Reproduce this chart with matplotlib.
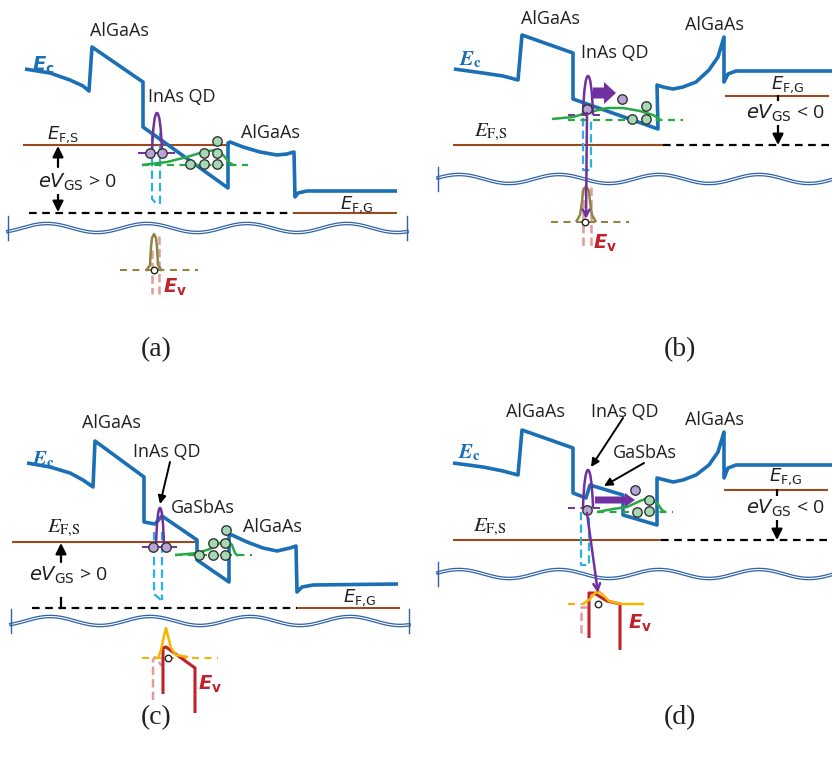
import numpy as np
import matplotlib.pyplot as plt
from matplotlib.path import Path
from matplotlib.patches import PathPatch

plt.rcParams['lines.scale_dashes'] = False

# ---- panel (a) ----
EC_A = [(25,69),(50,73),(70,80),(83,86),(89,91),(92,47),(140,80),(143,82),(143,127),(228,188),(228,143),(230,142),
        (243,147),(260,152),(277,155),(287,154),(294,152),(295,197),(298,193),(307,191),(333,191),(397,191)]
EFS_A = [(23,145),(230,145)]
DASH_A = [(29,213),(293,213)]
EFG_A = [(293,213),(397,213)]
CYAN_A = [[(152,133),(152,199),(158,205)], [(160,133),(160,205)]]
QD_LVL_A = [(138,153),(175,153)]
QD_PEAK_A = (152,162,153,113)
QD_E_A = [(150,153),(162,153)]
GWF_A = [(142,165),(167,162),(187,157),(203,152),(215,150),(223,155),(230,163),(233,165)]
GLVL_A = [(142,165),(248,165)]
GE_A = [(190,164),(204,164),(217,164),(204,153),(217,153),(217,141)]
HWF_A = [(146,271),(150,265),(151,247),(152,238),(154,234),(156,238),(157,247),(158,265),(162,271)]
HLVL_A = [(120,270),(198,270)]
PINK_A = [[(152,250),(152,294)], [(159,236),(159,294)]]
HOLE_A = (154,270)

# ---- panel (b) ----
EC_B = [(454,69),(483,73),(503,76),(518,80),(522,35),(573,53),(573,99),(658,129),(657,85),(663,87),(673,89),
        (683,87),(696,82),(709,70),(718,57),(724,37),(724,82),(728,74),(736,71),(832,71)]
EFS_B = [(453,145),(663,145)]
DASH_B = [(663,145),(832,145)]
EFG_B = [(725,96),(829,96)]
CYAN_B = [[(583,118),(583,170),(591,170),(591,118)]]
QD_LVL_B = [(568,115),(605,115)]
QD_PEAK_B = (583,593,115,76)
QD_E_B = [(587,109)]
ESC_B = [(622,99)]
GWF_B = [(552,119),(573,117),(590,112),(607,108),(623,108),(640,111),(653,115),(660,119)]
GLVL_B = [(568,120),(683,120)]
GE_B = [(632,119),(646,119),(646,106)]
HWF_B = [(576,222),(580,215),(582,202),(583,191),(586,186),(589,191),(590,202),(592,215),(596,222)]
HLVL_B = [(551,222),(629,222)]
PINK_B = [[(583,187),(583,247)], [(591,187),(591,247)]]
HOLE_B = (585,222)
RECOMB_B = [(587,113),(586,219)]
BLOCK_B = (593,93,616)

# ---- panel (c) ----
EC_C = [(27,463),(50,467),(70,473),(83,480),(93,487),(95,441),(144,477),(144,522),(155,524),(162,516),(197,540),
        (197,560),(229,582),(229,535),(232,535),(247,542),(263,548),(277,551),(290,548),(296,546),(297,592),
        (302,587),(313,585),(398,584)]
EFS_C = [(12,542),(197,542)]
DASH_C = [(32,608),(297,608)]
EFG_C = [(297,608),(400,608)]
CYAN_C = [[(154,532),(154,594),(161,600)], [(162,532),(162,600)]]
QD_LVL_C = [(142,547),(177,547)]
QD_PEAK_C = (156,164,547,508)
QD_E_C = [(153,547),(166,547)]
GWF_C = [(175,555),(187,554),(197,553),(210,549),(220,543),(227,540),(232,545),(235,553),(238,556)]
GLVL_C = [(175,555),(252,555)]
GE_C = [(199,555),(213,555),(225,555),(213,543),(225,543),(226,530)]
HWF_C = [(158,658),(161,650),(164,636),(166,628),(168,636),(171,648),(176,655),(188,657)]
HLVL_C = [(142,658),(218,658)]
RED_C = [(163,694),(163,648),(166,647),(195,668),(195,713)]
PINK_C = [[(153,700),(153,660),(155,657),(162,666)]]
HOLE_C = (168,658)

# ---- panel (d) ----
EC_D = [(453,463),(483,467),(503,471),(518,475),(522,430),(573,448),(573,493),(586,498),(590,485),(623,495),
        (623,515),(657,525),(657,478),(665,480),(673,482),(683,480),(696,475),(709,465),(718,452),(724,432),
        (724,478),(728,468),(736,465),(832,465)]
EFS_D = [(453,540),(661,540)]
DASH_D = [(661,540),(832,540)]
EFG_D = [(724,490),(828,490)]
CYAN_D = [[(581,512),(581,565),(589,565),(589,512)]]
QD_LVL_D = [(568,508),(603,508)]
QD_PEAK_D = (583,593,508,470)
QD_E_D = [(587,510)]
ESC_D = [(635,490)]
GWF_D = [(597,512),(613,509),(627,507),(640,501),(648,498),(657,503),(662,510),(665,512)]
GLVL_D = [(597,512),(673,512)]
GE_D = [(637,512),(649,511),(649,500)]
HWF_D = [(583,604),(589,600),(594,594),(598,591),(602,594),(609,601),(620,604),(644,604)]
HLVL_D = [(568,604),(585,604)]
RED_D = [(589,638),(589,593),(594,593),(607,601),(620,604),(620,650)]
PINK_D = [[(581,633),(581,607),(587,607)]]
HOLE_D = (598,604)
RECOMB_D = [(587,513),(598,593)]
BLOCK_D = (595,500,635)

LAYER_TEXT = [(119,31,'AlGaAs'),(182,97,'InAs QD'),(270,133,'AlGaAs'),
              (550,19,'AlGaAs'),(615,53,'InAs QD'),(714,25,'AlGaAs'),
              (111,423,'AlGaAs'),(167,452,'InAs QD'),(203,508,'GaSbAs'),(272,527,'AlGaAs'),
              (535,412,'AlGaAs'),(625,412,'InAs QD'),(714,420,'AlGaAs'),(645,453,'GaSbAs')]
PANEL_TEXT = [(156,350,'(a)'),(680,350,'(b)'),(156,718,'(c)'),(680,718,'(d)')]

EC_BLUE = '#1b6fb5'
BROWN = '#9b4a1e'
CYAN = '#2bb0e6'
GREEN = '#27a844'
PURPLE = '#7030a0'
LPURPLE = '#b9a2d6'
LGREEN = '#a4d9b4'
OLIVE = '#8f8545'
PINK = '#e29a9a'
RED = '#c0222b'
YELLOW = '#f7b500'
WAVE = '#2f62a6'
INK = '#231f20'

fig = plt.figure(figsize=(8.32, 7.66), dpi=100)
ax = fig.add_axes([0, 0, 1, 1])
ax.set_xlim(0, 832)
ax.set_ylim(766, 0)
ax.axis('off')


def line(pts, color, lw, dashes=None, z=2):
    xs, ys = zip(*pts)
    l, = ax.plot(xs, ys, color=color, lw=lw, zorder=z, solid_capstyle='butt', dash_capstyle='butt')
    if dashes:
        l.set_dashes(dashes)


def peak(x0, x1, yb, yt, color, lw=1.8):
    h = (yt - yb) * 4 / 3
    w = x1 - x0
    verts = [(x0, yb), (x0 + 0.15 * w, yb + h), (x1 - 0.15 * w, yb + h), (x1, yb)]
    p = Path(verts, [Path.MOVETO, Path.CURVE4, Path.CURVE4, Path.CURVE4])
    ax.add_patch(PathPatch(p, fill=False, ec=color, lw=lw, zorder=5))


def wave(x0, x1, yc, phase, bar_right=True):
    x = np.linspace(x0, x1, 400)
    y = yc + 4.5 * np.sin(2 * np.pi * (x - phase) / 100)
    ax.plot(x, y, color=WAVE, lw=2.6, zorder=1)
    ax.plot(x, y, color='white', lw=0.8, zorder=1)
    ends = [x0, x1] if bar_right else [x0]
    for xb in ends:
        ax.plot([xb, xb], [yc - 12, yc + 12], color=WAVE, lw=1, zorder=1)


def dots(pts, fc, s=46, ec='#333333'):
    xs, ys = zip(*pts)
    ax.scatter(xs, ys, s=s, c=fc, edgecolors=ec, linewidths=1, zorder=7)


def arrow(p0, p1, color='k', lw=1.6, ms=16, style='-|>'):
    ax.annotate('', xy=p1, xytext=p0,
                arrowprops=dict(arrowstyle=style, color=color, lw=lw, mutation_scale=ms,
                                shrinkA=0, shrinkB=0), zorder=8)


def block(tail, y, tip, w, hw, hl):
    ax.arrow(tail, y, tip - tail, 0, width=w, head_width=hw, head_length=hl,
             length_includes_head=True, color=PURPLE, lw=0, zorder=8)


def panel(ec, efs, dash, efg, cyan, qdl, qdp, qde, gwf, glvl, ge, hwf, hlvl, pink, hole,
          qd_dash=False, hcol=OLIVE):
    line(ec, EC_BLUE, 2.6, z=3)
    line(efs, BROWN, 1.5)
    line(dash, 'k', 1.6, dashes=(5.5, 4))
    line(efg, BROWN, 1.5)
    for c in cyan:
        line(c, CYAN, 1.6, dashes=(6, 3), z=2)
    for p in pink:
        line(p, PINK, 1.8, dashes=(6, 3), z=2)
    line(qdl, PURPLE, 1.4, dashes=(5, 4) if qd_dash else None, z=4)
    peak(*qdp, PURPLE)
    line(glvl, GREEN, 1.6, dashes=(5, 4), z=4)
    line(gwf, GREEN, 1.8, z=4)
    line(hlvl, hcol, 1.5, dashes=(5, 4), z=4)
    line(hwf, hcol, 1.8, z=5)
    dots(ge, LGREEN)
    dots(qde, LPURPLE)
    ax.scatter([hole[0]], [hole[1]], s=22, c='white', edgecolors='#222222', linewidths=1, zorder=9)


panel(EC_A, EFS_A, DASH_A, EFG_A, CYAN_A, QD_LVL_A, QD_PEAK_A, QD_E_A, GWF_A, GLVL_A, GE_A,
      HWF_A, HLVL_A, PINK_A, HOLE_A)
panel(EC_B, EFS_B, DASH_B, EFG_B, CYAN_B, QD_LVL_B, QD_PEAK_B, QD_E_B, GWF_B, GLVL_B, GE_B,
      HWF_B, HLVL_B, PINK_B, HOLE_B, qd_dash=True)
panel(EC_C, EFS_C, DASH_C, EFG_C, CYAN_C, QD_LVL_C, QD_PEAK_C, QD_E_C, GWF_C, GLVL_C, GE_C,
      HWF_C, HLVL_C, PINK_C, HOLE_C, hcol=YELLOW)
panel(EC_D, EFS_D, DASH_D, EFG_D, CYAN_D, QD_LVL_D, QD_PEAK_D, QD_E_D, GWF_D, GLVL_D, GE_D,
      HWF_D, HLVL_D, PINK_D, HOLE_D, qd_dash=True, hcol=YELLOW)
line(RED_C, RED, 2.2, z=4)
line(RED_D, RED, 2.2, z=4)

# escaping electrons and recombination
dots(ESC_B, LPURPLE)
dots(ESC_D, LPURPLE)
block(BLOCK_B[0], BLOCK_B[1], BLOCK_B[2], 11, 22, 12)
block(BLOCK_D[0], BLOCK_D[1], BLOCK_D[2], 7, 14, 10)
arrow(RECOMB_B[0], RECOMB_B[1], color=PURPLE, lw=1.8, ms=12, style='->')
arrow(RECOMB_D[0], RECOMB_D[1], color=PURPLE, lw=1.8, ms=12, style='->')

# wavy breaks
wave(8, 407, 228, 72)
wave(11, 409, 621, 75)
wave(438, 840, 179, 484, bar_right=False)
wave(438, 840, 574, 484, bar_right=False)

# gate bias arrows
arrow((58, 167), (58, 146))
arrow((58, 193), (58, 212))
arrow((778, 96), (778, 145))
arrow((61, 562), (61, 543))
ax.plot([61, 61], [598, 608], color='k', lw=1.6)
arrow((777, 490), (777, 540))
# pointers to layers
arrow((170, 462), (160, 504), lw=1.4, ms=12)
arrow((623, 418), (591, 467), lw=1.4, ms=12)
arrow((644, 463), (604, 486), lw=1.4, ms=12)

for x, y, s in LAYER_TEXT:
    ax.text(x, y, s, fontsize=13, family='Open Sans', color=INK, ha='center', va='center', zorder=10)
for x, y, s in PANEL_TEXT:
    ax.text(x, y, s, fontsize=20, family='Liberation Serif', color=INK, ha='center', va='center')

# band labels
ax.text(32, 65, r'$\mathbfit{E}_{\mathbf{c}}$', fontsize=14, color=EC_BLUE, va='center', math_fontfamily='dejavusans')
for x, y in [(459, 60), (32, 460), (458, 453)]:
    ax.text(x, y, r'$\mathbfit{E}_{\mathbf{c}}$', fontsize=15, color=EC_BLUE, va='center', math_fontfamily='stix')
for x, y in [(163, 287), (593, 243), (198, 684), (628, 623)]:
    ax.text(x, y, r'$\mathbfit{E}_{\mathbf{v}}$', fontsize=14, color=RED, va='center', math_fontfamily='dejavusans')

ax.text(47, 135, r'$E_{\rm F{,}S}$', fontsize=13, color=INK, va='center', math_fontfamily='dejavusans')
for x, y in [(474, 132), (47, 528), (473, 527)]:
    ax.text(x, y, r'$E_{\rm F{,}S}$', fontsize=15, color=INK, va='center', math_fontfamily='stix')
for x, y in [(340, 205), (771, 85), (343, 598), (769, 477)]:
    ax.text(x, y, r'$E_{\rm F{,}G}$', fontsize=13, color=INK, va='center', math_fontfamily='dejavusans')

for x, y, s in [(38, 182, '> 0'), (746, 113, '< 0'), (29, 575, '> 0'), (746, 508, '< 0')]:
    ax.text(x, y, r'$eV_{\rm GS}$ ' + s, fontsize=14, family='Open Sans', color=INK, va='center',
            math_fontfamily='dejavusans', zorder=10,
            bbox=dict(fc='white', ec='none', pad=1))

fig.savefig('out.png', dpi=100)
